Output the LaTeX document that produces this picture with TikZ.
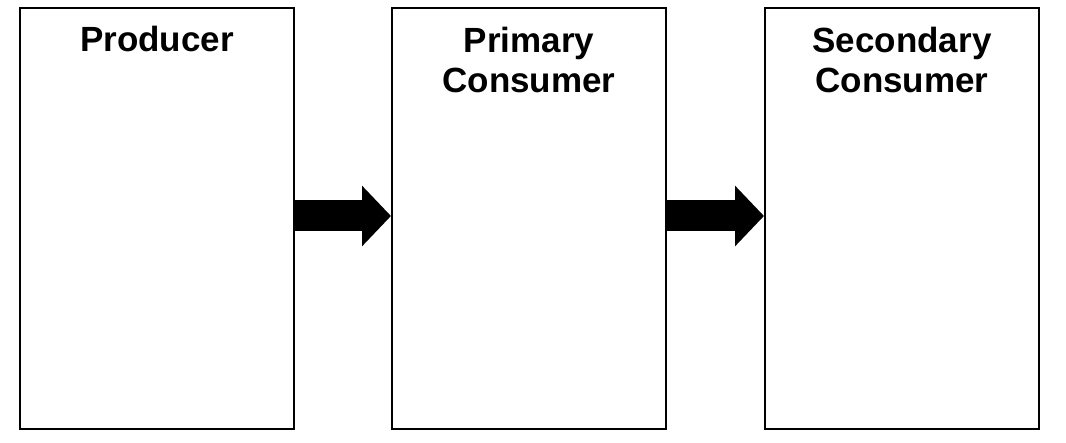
\documentclass[tikz,border=0pt]{standalone}
\usepackage{fontspec}
\setmainfont{Liberation Sans}
\usetikzlibrary{arrows.meta}

\begin{document}
\begin{tikzpicture}[x=1pt, y=1pt]
   \useasboundingbox (0,0) rectangle (1066,442);
   \node(prod) at (157,223.5) [shape = rectangle, draw, line width = 2pt, minimum width = 274pt, minimum height = 421pt] {};
   \node(prim) at (529,223.5) [shape = rectangle, draw, line width = 2pt, minimum width = 274pt, minimum height = 421pt] {};
   \node(sec) at (902,223.5) [shape = rectangle, draw, line width = 2pt, minimum width = 274pt, minimum height = 421pt] {};
   \node(prodtitle) at (157,390) [anchor = base, font = \fontsize{35}{40}\selectfont\bfseries] {Producer};
   \node(primtitle) at (529,418) [anchor = north, align = center, font = \fontsize{35}{40}\selectfont\bfseries] {Primary\\Consumer};
   \node(sectitle) at (902,418) [anchor = north, align = center, font = \fontsize{35}{40}\selectfont\bfseries] {Secondary\\Consumer};
   \draw [line width = 31pt, -{Triangle[length = 29pt, width = 59pt]}] ([yshift = 2.5pt]prod.east) to ([yshift = 2.5pt]prim.west) ;
   \draw [line width = 31pt, -{Triangle[length = 29pt, width = 59pt]}] ([yshift = 2.5pt]prim.east) to ([yshift = 2.5pt]sec.west) ;

\end{tikzpicture}
\end{document}
